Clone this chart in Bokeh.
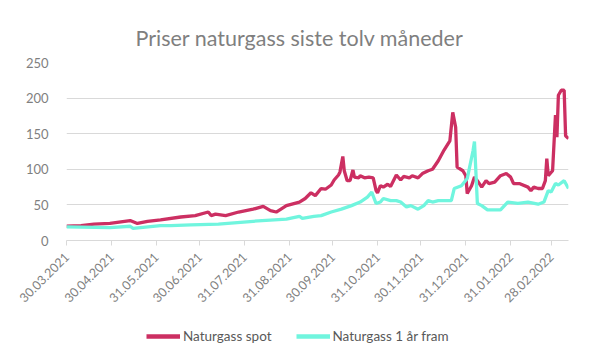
import pandas as pd
from bokeh.plotting import figure
from bokeh.layouts import column
from bokeh.models import (ColumnDataSource, FixedTicker, Legend, LegendItem, Range1d)
from bokeh.embed import file_html
from bokeh.resources import INLINE

# ---- data ----
spot_dates = [
    "2021-03-30", "2021-04-09", "2021-04-18", "2021-04-29", "2021-05-13", "2021-05-18",
    "2021-05-25", "2021-06-03", "2021-06-17", "2021-06-27", "2021-07-06", "2021-07-08",
    "2021-07-11", "2021-07-18", "2021-07-27", "2021-08-06", "2021-08-13", "2021-08-18",
    "2021-08-22", "2021-08-29", "2021-09-07", "2021-09-11", "2021-09-15", "2021-09-18",
    "2021-09-22", "2021-09-25", "2021-09-29", "2021-10-01", "2021-10-04", "2021-10-05",
    "2021-10-07", "2021-10-08", "2021-10-10", "2021-10-12", "2021-10-14", "2021-10-15",
    "2021-10-18", "2021-10-19", "2021-10-22", "2021-10-25", "2021-10-28", "2021-10-30",
    "2021-10-31", "2021-11-02", "2021-11-04", "2021-11-07", "2021-11-09", "2021-11-11",
    "2021-11-13", "2021-11-16", "2021-11-18", "2021-11-22", "2021-11-24", "2021-11-28",
    "2021-12-01", "2021-12-05", "2021-12-08", "2021-12-12", "2021-12-16", "2021-12-20",
    "2021-12-22", "2021-12-24", "2021-12-25", "2021-12-29", "2021-12-31", "2022-01-01",
    "2022-01-04", "2022-01-06", "2022-01-08", "2022-01-11", "2022-01-14", "2022-01-16",
    "2022-01-20", "2022-01-24", "2022-01-28", "2022-01-31", "2022-02-02", "2022-02-06",
    "2022-02-12", "2022-02-14", "2022-02-16", "2022-02-19", "2022-02-22", "2022-02-24",
    "2022-02-25", "2022-02-26", "2022-03-01", "2022-03-03", "2022-03-04", "2022-03-05",
    "2022-03-07", "2022-03-09", "2022-03-10", "2022-03-12",
]
spot_values = [
    20, 21, 23, 24, 28, 24,
    27, 29, 33, 35, 40, 35,
    37, 35, 40, 44, 48, 42,
    40, 49, 54, 59, 67, 63,
    73, 72, 78, 85, 92, 96,
    118, 98, 84, 84, 99, 89,
    88, 91, 88, 89, 88, 70,
    67, 77, 75, 79, 76, 84,
    92, 85, 90, 88, 91, 88,
    94, 98, 100, 112, 127, 140,
    180, 159, 103, 98, 91, 66,
    77, 89, 84, 75, 84, 80,
    82, 91, 94, 89, 80, 80,
    75, 70, 75, 73, 73, 84,
    115, 91, 98, 176, 145, 204,
    211, 211, 147, 143,
]

fwd_dates = [
    "2021-03-30", "2021-04-29", "2021-05-13", "2021-05-15", "2021-06-03", "2021-06-10",
    "2021-06-24", "2021-07-13", "2021-08-06", "2021-08-29", "2021-09-07", "2021-09-09",
    "2021-09-17", "2021-09-22", "2021-09-29", "2021-10-06", "2021-10-13", "2021-10-19",
    "2021-10-24", "2021-10-27", "2021-10-30", "2021-11-02", "2021-11-04", "2021-11-09",
    "2021-11-13", "2021-11-16", "2021-11-20", "2021-11-23", "2021-11-28", "2021-12-02",
    "2021-12-05", "2021-12-08", "2021-12-12", "2021-12-21", "2021-12-23", "2021-12-28",
    "2022-01-01", "2022-01-05", "2022-01-06", "2022-01-08", "2022-01-11", "2022-01-15",
    "2022-01-24", "2022-01-29", "2022-02-05", "2022-02-12", "2022-02-19", "2022-02-23",
    "2022-02-26", "2022-02-28", "2022-03-03", "2022-03-05", "2022-03-09", "2022-03-12",
]
fwd_values = [
    19, 18, 20, 17, 21, 21,
    22, 23, 27, 30, 34, 31,
    34, 35, 40, 44, 49, 54,
    61, 68, 52, 54, 59, 56,
    56, 54, 47, 49, 44, 49,
    56, 54, 56, 56, 73, 77,
    87, 126, 139, 52, 49, 43,
    43, 54, 52, 54, 51, 54,
    70, 68, 80, 78, 84, 73,
]

tick_dates = ["2021-03-30", "2021-04-30", "2021-05-31", "2021-06-30", "2021-07-31",
              "2021-08-31", "2021-09-30", "2021-10-31", "2021-11-30", "2021-12-31",
              "2022-01-31", "2022-02-28"]
tick_labels = ["30.03.2021", "30.04.2021", "31.05.2021", "30.06.2021", "31.07.2021",
               "31.08.2021", "30.09.2021", "31.10.2021", "30.11.2021", "31.12.2021",
               "31.01.2022", "28.02.2022"]
y_ticks = [0, 50, 100, 150, 200, 250]

series_names = ["Naturgass spot", "Naturgass 1 år fram"]
title_text = "Priser naturgass siste tolv måneder"

# ---- build ----
def to_ms(s):
    return pd.Timestamp(s).value / 1e6

spot_src = ColumnDataSource(dict(x=[to_ms(d) for d in spot_dates], y=spot_values))
fwd_src = ColumnDataSource(dict(x=[to_ms(d) for d in fwd_dates], y=fwd_values))

FONT = "Lato"
GREY = "#7f7f7f"
RED = "#cc2f62"
CYAN = "#70f5de"
W = 583
x_rng = Range1d(to_ms("2021-03-30"), to_ms("2022-03-12"))

p = figure(width=W, height=324,
           output_backend="svg", toolbar_location=None,
           x_range=x_rng, y_range=Range1d(0, 250),
           min_border_left=66, min_border_right=15,
           min_border_top=62, min_border_bottom=84)

p.title.text = title_text
p.title.align = "left"
p.title.offset = 69
p.title.text_font = FONT
p.title.text_font_size = "21.5px"
p.title.text_font_style = "normal"
p.title.text_color = GREY
p.title.text_line_height = 0.6
p.title.standoff = 24

p.outline_line_color = None
p.background_fill_color = "white"
p.border_fill_color = "white"

r1 = p.line("x", "y", source=spot_src, line_color=RED, line_width=3.3)
r2 = p.line("x", "y", source=fwd_src, line_color=CYAN, line_width=3.3)

# y axis
p.yaxis.ticker = FixedTicker(ticks=y_ticks)
p.yaxis.axis_line_color = None
p.yaxis.major_tick_line_color = None
p.yaxis.minor_tick_line_color = None
p.yaxis.major_label_text_font = FONT
p.yaxis.major_label_text_font_size = "13px"
p.yaxis.major_label_text_color = GREY
p.yaxis.major_label_standoff = 12
p.ygrid.grid_line_color = "#d9d9d9"
p.ygrid.grid_line_width = 1

# x axis
p.xaxis.ticker = FixedTicker(ticks=[to_ms(d) for d in tick_dates])
p.xaxis.major_label_overrides = {to_ms(d): l for d, l in zip(tick_dates, tick_labels)}
p.xaxis.major_label_orientation = 0.785398
p.xaxis.axis_line_color = "#d9d9d9"
p.xaxis.major_tick_line_color = "#d9d9d9"
p.xaxis.major_tick_in = 0
p.xaxis.major_tick_out = 5
p.xaxis.minor_tick_line_color = None
p.xaxis.major_label_text_font = FONT
p.xaxis.major_label_text_font_size = "12.5px"
p.xaxis.major_label_text_color = GREY
p.xaxis.major_label_standoff = 9
p.xgrid.grid_line_color = None

# legend in a small strip figure below the chart (frame is aligned with the chart's)
lg = figure(width=W, height=20, output_backend="svg", toolbar_location=None,
            x_range=x_rng, y_range=Range1d(1000, 1001),
            min_border_top=0, min_border_bottom=0)
lg.axis.visible = False
lg.grid.visible = False
lg.outline_line_color = None
lg.background_fill_color = "white"
lr1 = lg.line("x", "y", source=spot_src, line_color=RED, line_width=4.5)
lr2 = lg.line("x", "y", source=fwd_src, line_color=CYAN, line_width=4.5)
legend = Legend(items=[LegendItem(label=series_names[0], renderers=[lr1]),
                       LegendItem(label=series_names[1], renderers=[lr2])],
                orientation="horizontal", location=(80, 0),
                label_text_font=FONT, label_text_font_size="13.5px",
                label_text_color="#595959", glyph_width=34, glyph_height=14,
                label_height=14, label_standoff=3,
                spacing=24, border_line_color=None, background_fill_alpha=0,
                margin=0, padding=2)
lg.add_layout(legend, "center")

open("out.html", "w").write(file_html(column(p, lg, spacing=0), INLINE))
